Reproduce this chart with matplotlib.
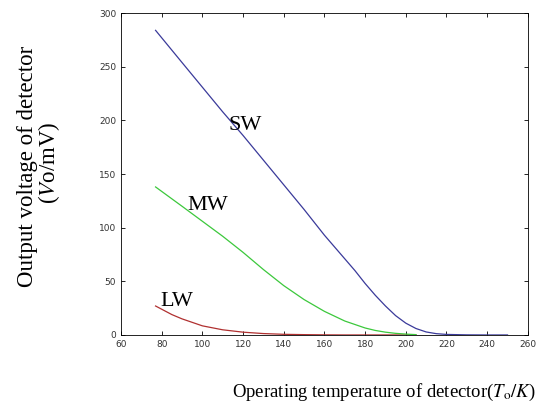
import numpy as np
import matplotlib
matplotlib.use("Agg")
import matplotlib.pyplot as plt

# DATA
t_sw = [77, 90, 100, 110, 120, 130, 140, 150, 160, 170, 175, 180, 185, 190, 195,
        200, 205, 210, 215, 220, 230, 240, 250]
v_sw = [284, 254, 231, 208, 186, 163, 140, 117, 93, 71, 60, 48, 37, 27, 18,
        11, 6, 2.8, 1.2, 0.5, 0.1, 0, 0]

t_mw = [77, 90, 100, 110, 120, 130, 140, 150, 160, 170, 180, 185, 190, 195, 200, 205]
v_mw = [138, 120, 106, 92, 77, 61, 46, 33, 22, 13, 6.5, 4.2, 2.6, 1.5, 0.8, 0.3]

t_lw = [77, 85, 90, 100, 110, 120, 130, 140, 150, 160, 170, 180, 190, 200, 205]
v_lw = [27, 19, 15, 8.5, 4.8, 2.6, 1.3, 0.6, 0.3, 0.1, 0, 0, 0, 0, 0]

x_ticks = [60, 80, 100, 120, 140, 160, 180, 200, 220, 240, 260]
y_ticks = [0, 50, 100, 150, 200, 250, 300]

# PLOT
fig = plt.figure(figsize=(5.37, 4.12), dpi=100)
ax = fig.add_axes([0.2253, 0.187, 0.7577, 0.781])

ax.plot(t_lw, v_lw, color="#b03030", lw=0.9)
ax.plot(t_mw, v_mw, color="#3cc83c", lw=0.9)
ax.plot(t_sw, v_sw, color="#3a3a9a", lw=0.9)

ax.set_xlim(60, 260)
ax.set_ylim(0, 300)
ax.set_xticks(x_ticks)
ax.set_yticks(y_ticks)
ax.tick_params(direction="in", top=True, right=True, length=3,
               labelsize=6.5, labelcolor="#333333", width=0.6)
for s in ax.spines.values():
    s.set_linewidth(0.6)

serif = "Liberation Serif"
ax.text(121, 195, "SW", fontsize=16, family=serif, ha="center", va="center")
ax.text(102.5, 120.5, "MW", fontsize=16, family=serif, ha="center", va="center")
ax.text(87.5, 31, "LW", fontsize=16, family=serif, ha="center", va="center")

plt.rcParams["mathtext.fontset"] = "stix"
fig.text(0.052, 0.595, "Output voltage of detector", rotation=90,
         fontsize=16.5, family=serif, ha="center", va="center")
fig.text(0.092, 0.605, r"($V$o/mV)", rotation=90,
         fontsize=16.5, family=serif, ha="center", va="center")
fig.text(0.998, 0.048, r"Operating temperature of detector($T_{\rm o}/K$)",
         fontsize=13.5, family=serif, ha="right", va="center")

plt.savefig("out.png", dpi=100)
